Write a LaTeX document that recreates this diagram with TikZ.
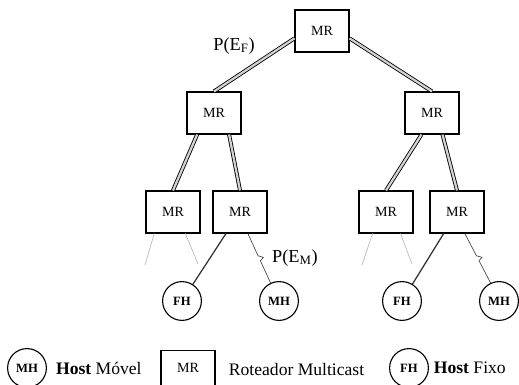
\documentclass[tikz,border=0pt]{standalone}
\usepackage{fontspec}
\setmainfont{Liberation Serif}
\usetikzlibrary{calc}

\begin{document}
\begin{tikzpicture}[x=0.025cm,y=-0.025cm]
\tikzstyle{router}=[draw,thick,minimum width=1.35cm,minimum height=1.05cm,inner sep=2pt,font=\fontsize{10}{12}\selectfont]
\tikzstyle{host}=[draw,thick,circle,minimum size=0.97cm,inner sep=0pt,font=\fontsize{9}{11}\selectfont\bfseries]
\tikzstyle{trunk}=[double=gray!35,double distance=1.6pt,line width=0.6pt]
\tikzstyle{link}=[gray!40!black,line width=0.9pt]
\tikzstyle{faded}=[gray!55,line width=0.5pt]
\tikzstyle{wireless}=[gray!60!black,line width=0.5pt,to path={-- ($(\tikztostart)!.45!(\tikztotarget)$) -- ($(\tikztostart)!.52!(\tikztotarget)!3pt!90:(\tikztotarget)$) -- ($(\tikztostart)!.55!(\tikztotarget)$) -- (\tikztotarget)}]
\tikzstyle{legend}=[font=\fontsize{12.5}{15}\selectfont]
\useasboundingbox (0,0) rectangle (519,385);

% tree of multicast routers
\node[router] (mr) at (322,31) {MR};
\node[router] (mrl) at (214,113) {MR};
\node[router] (mrr) at (432,113) {MR};
\node[router] (mrll) at (173,212) {MR};
\node[router] (mrlr) at (240,212) {MR};
\node[router] (mrrl) at (386,212) {MR};
\node[router] (mrrr) at (457,212) {MR};

% hosts
\node[host] (fh1) at (182,301) {FH};
\node[host] (mh1) at (279,301) {MH};
\node[host] (fh2) at (402,301) {FH};
\node[host] (mh2) at (499,301) {MH};

\coordinate (e1) at (145,265);
\coordinate (e2) at (198,264);
\coordinate (e3) at (362,265);
\coordinate (e4) at (412,264);

\draw[trunk] (mr.195) -- (mrl.north);
\draw[trunk] (mr.-15) -- (mrr.north);
\draw[trunk] (mrl.-128) -- (mrll.north);
\draw[trunk] (mrl.-55) -- (mrlr.north);
\draw[trunk] (mrr.-116) -- (mrrl.north);
\draw[trunk] (mrr.-64) -- (mrrr.north);

\draw[link] (mrlr) -- (fh1);
\draw[link] (mrrr) -- (fh2);
\draw[wireless] (mrlr.-70) to (mh1.115);
\draw[wireless] (mrrr.-70) to (mh2.115);
\draw[faded] (mrll.-131) -- (e1);
\draw[faded] (mrll.-60) -- (e2);
\draw[faded] (mrrl.-122) -- (e3);
\draw[faded] (mrrl.-56) -- (e4);

\node[font=\fontsize{13}{15}\selectfont] (pef) at (234,46) {P(E\textsubscript{F})};
\node[font=\fontsize{13}{15}\selectfont] (pem) at (295,258) {P(E\textsubscript{M})};

% legend
\node[host] (mhk) at (27,368) {MH};
\node[legend,anchor=west,xshift=3pt] (mhtxt) at (mhk.east) {\textbf{Host} Móvel};
\node[router,anchor=north,text height=13.5pt,text depth=12pt] (mrk) at (188,350) {MR};
\node[legend,anchor=west] (mrtxt) at (224,369) {Roteador Multicast};
\node[host] (fhk) at (409,368) {FH};
\node[legend,anchor=west] (fhtxt) at (fhk.east) {\textbf{Host} Fixo};
\end{tikzpicture}
\end{document}
